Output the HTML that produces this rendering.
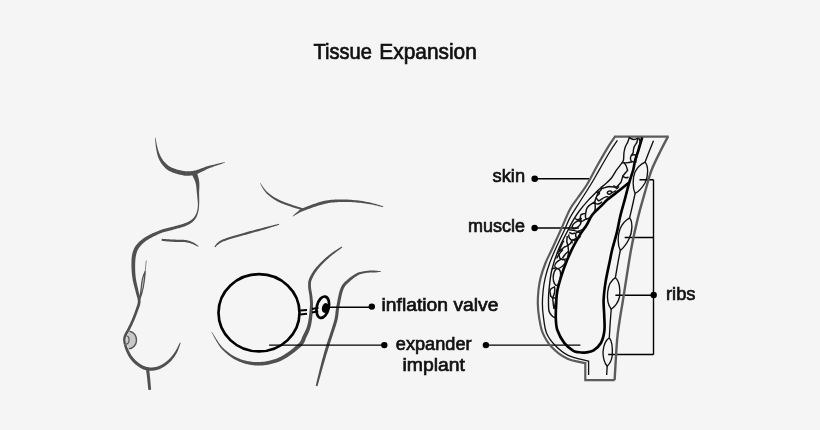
<!DOCTYPE html>
<html><head><meta charset="utf-8">
<style>
html,body{margin:0;padding:0;background:#f5f5f5;}
body{width:820px;height:430px;overflow:hidden;}
svg{display:block;} text{will-change:transform;}
text{font-family:"Liberation Sans",sans-serif;fill:#111;} .lb{stroke:#111;stroke-width:0.7;}
</style></head><body>
<svg width="820" height="430" viewBox="0 0 820 430">
<rect width="820" height="430" fill="#f5f5f5"/>
<text x="313.5" y="58.8" font-size="22" stroke="#111" stroke-width="0.7" textLength="58.5" lengthAdjust="spacingAndGlyphs">Tissue</text><text x="379.3" y="58.8" font-size="22" stroke="#111" stroke-width="0.7" textLength="97.5" lengthAdjust="spacingAndGlyphs">Expansion</text>
<text class="lb" x="492.6" y="182.3" font-size="19.2" textLength="32.5" lengthAdjust="spacingAndGlyphs">skin</text>
<text class="lb" x="468" y="231.5" font-size="19.2" textLength="57" lengthAdjust="spacingAndGlyphs">muscle</text>
<text class="lb" x="381.5" y="310.8" font-size="19.2" textLength="117" lengthAdjust="spacingAndGlyphs">inflation valve</text>
<text class="lb" x="395.8" y="349.5" font-size="19.2" textLength="75.8" lengthAdjust="spacingAndGlyphs">expander</text>
<text class="lb" x="402.5" y="371.1" font-size="19.2" textLength="62.5" lengthAdjust="spacingAndGlyphs">implant</text>
<text class="lb" x="666" y="299.8" font-size="19.2" textLength="29.5" lengthAdjust="spacingAndGlyphs">ribs</text>
<path d="M155.00,137.63 L155.03,138.14 L155.07,138.79 L155.13,139.55 L155.19,140.40 L155.27,141.32 L155.36,142.30 L155.46,143.31 L155.57,144.34 L155.68,145.35 L155.80,146.34 L155.93,147.29 L156.07,148.16 L156.20,148.98 L156.35,149.80 L156.49,150.61 L156.65,151.41 L156.81,152.21 L156.98,153.00 L157.17,153.78 L157.37,154.55 L157.58,155.31 L157.80,156.06 L158.05,156.80 L158.31,157.53 L158.60,158.23 L158.89,158.92 L159.19,159.59 L159.51,160.25 L159.84,160.90 L160.19,161.54 L160.56,162.17 L160.95,162.79 L161.36,163.40 L161.79,164.00 L162.24,164.60 L162.70,165.18 L163.18,165.73 L163.65,166.26 L164.14,166.80 L164.64,167.34 L165.18,167.88 L165.75,168.40 L166.35,168.93 L167.00,169.44 L167.70,169.94 L168.46,170.43 L169.27,170.90 L170.13,171.36 L171.07,171.79 L172.08,172.22 L173.15,172.65 L174.28,173.06 L175.45,173.46 L176.64,173.85 L177.85,174.21 L179.06,174.55 L180.26,174.85 L181.45,175.12 L182.60,175.35 L183.70,175.53 L184.75,175.64 L185.77,175.72 L186.76,175.76 L187.73,175.77 L188.69,175.74 L189.64,175.68 L190.60,175.59 L191.55,175.46 L192.51,175.30 L193.48,175.11 L194.48,174.89 L195.52,174.63 L196.59,174.27 L197.66,173.84 L198.70,173.37 L199.74,172.87 L200.78,172.34 L201.81,171.80 L202.86,171.25 L203.92,170.69 L205.00,170.14 L206.10,169.60 L207.24,169.08 L208.41,168.58 L209.69,168.06 L211.12,167.51 L212.66,166.94 L214.26,166.37 L215.89,165.79 L217.52,165.22 L219.10,164.67 L220.60,164.15 L221.98,163.66 L223.21,163.21 L224.25,162.82 L225.06,162.49 L224.94,162.11 L224.09,162.27 L223.00,162.49 L221.72,162.77 L220.29,163.09 L218.74,163.45 L217.11,163.83 L215.43,164.23 L213.74,164.64 L212.08,165.05 L210.48,165.46 L208.97,165.85 L207.59,166.22 L206.30,166.61 L205.05,167.02 L203.85,167.45 L202.67,167.89 L201.54,168.33 L200.44,168.75 L199.37,169.15 L198.33,169.52 L197.33,169.86 L196.35,170.15 L195.41,170.38 L194.48,170.57 L193.56,170.77 L192.66,170.94 L191.80,171.09 L190.97,171.20 L190.16,171.29 L189.36,171.34 L188.56,171.37 L187.75,171.37 L186.93,171.34 L186.08,171.28 L185.21,171.19 L184.30,171.07 L183.33,170.94 L182.31,170.77 L181.24,170.56 L180.12,170.31 L178.99,170.03 L177.86,169.73 L176.74,169.40 L175.65,169.06 L174.60,168.70 L173.60,168.34 L172.69,167.99 L171.87,167.64 L171.13,167.31 L170.46,166.97 L169.84,166.62 L169.25,166.26 L168.71,165.88 L168.19,165.50 L167.69,165.09 L167.21,164.67 L166.73,164.24 L166.26,163.78 L165.78,163.31 L165.30,162.82 L164.83,162.35 L164.38,161.89 L163.96,161.41 L163.55,160.92 L163.15,160.42 L162.77,159.90 L162.40,159.37 L162.04,158.83 L161.69,158.26 L161.35,157.68 L161.01,157.08 L160.69,156.47 L160.37,155.84 L160.06,155.20 L159.77,154.54 L159.49,153.85 L159.22,153.15 L158.95,152.43 L158.70,151.69 L158.46,150.95 L158.22,150.18 L157.98,149.41 L157.76,148.63 L157.53,147.84 L157.31,147.01 L157.10,146.11 L156.89,145.16 L156.69,144.17 L156.49,143.16 L156.30,142.17 L156.12,141.21 L155.95,140.30 L155.80,139.46 L155.65,138.71 L155.52,138.07 L155.40,137.57Z" fill="#505050"/>
<path d="M190.99,173.04 L191.26,173.52 L191.60,174.12 L191.97,174.79 L192.37,175.54 L192.79,176.34 L193.22,177.19 L193.65,178.07 L194.07,178.97 L194.47,179.87 L194.84,180.74 L195.16,181.58 L195.44,182.38 L195.65,183.17 L195.83,183.98 L195.98,184.81 L196.12,185.67 L196.24,186.54 L196.34,187.43 L196.43,188.33 L196.52,189.25 L196.61,190.19 L196.69,191.13 L196.79,192.09 L196.90,193.06 L197.00,194.04 L197.10,195.05 L197.21,196.09 L197.32,197.13 L197.42,198.19 L197.53,199.23 L197.62,200.27 L197.71,201.29 L197.78,202.28 L197.84,203.23 L197.88,204.13 L197.90,204.98 L197.85,205.78 L197.80,206.54 L197.74,207.26 L197.66,207.95 L197.57,208.61 L197.47,209.24 L197.36,209.85 L197.23,210.45 L197.08,211.04 L196.92,211.61 L196.74,212.19 L196.54,212.77 L196.30,213.35 L196.05,213.91 L195.79,214.46 L195.53,215.00 L195.24,215.52 L194.95,216.02 L194.63,216.51 L194.30,216.98 L193.94,217.44 L193.56,217.88 L193.15,218.31 L192.71,218.73 L192.25,219.15 L191.78,219.54 L191.30,219.93 L190.79,220.29 L190.27,220.65 L189.71,221.00 L189.12,221.34 L188.49,221.67 L187.81,222.00 L187.09,222.34 L186.30,222.67 L185.47,223.01 L184.56,223.36 L183.56,223.70 L182.48,224.05 L181.33,224.40 L180.13,224.75 L178.89,225.09 L177.64,225.43 L176.38,225.77 L175.13,226.10 L173.91,226.42 L172.72,226.74 L171.59,227.06 L170.54,227.35 L169.52,227.61 L168.52,227.86 L167.54,228.09 L166.56,228.32 L165.58,228.55 L164.59,228.80 L163.59,229.06 L162.56,229.35 L161.52,229.68 L160.44,230.04 L159.33,230.46 L158.19,230.90 L157.00,231.38 L155.78,231.90 L154.52,232.44 L153.26,233.01 L151.99,233.60 L150.74,234.20 L149.51,234.82 L148.31,235.45 L147.16,236.08 L146.07,236.71 L145.04,237.33 L144.09,237.96 L143.17,238.59 L142.29,239.23 L141.46,239.88 L140.66,240.53 L139.89,241.20 L139.16,241.87 L138.47,242.55 L137.81,243.24 L137.19,243.93 L136.59,244.63 L136.03,245.34 L135.51,246.07 L135.03,246.80 L134.60,247.54 L134.21,248.27 L133.86,249.01 L133.54,249.76 L133.25,250.51 L132.99,251.28 L132.76,252.05 L132.54,252.84 L132.34,253.64 L132.14,254.48 L131.98,255.37 L131.84,256.28 L131.72,257.21 L131.63,258.15 L131.56,259.11 L131.50,260.07 L131.47,261.05 L131.44,262.03 L131.43,263.02 L131.43,264.01 L131.44,265.01 L131.45,266.01 L131.47,267.02 L131.50,268.05 L131.54,269.09 L131.60,270.14 L131.66,271.20 L131.74,272.28 L131.83,273.36 L131.94,274.45 L132.06,275.54 L132.20,276.64 L132.35,277.75 L132.52,278.86 L132.72,279.99 L132.95,281.15 L133.21,282.33 L133.49,283.51 L133.78,284.69 L134.08,285.87 L134.38,287.03 L134.68,288.17 L134.97,289.27 L135.24,290.34 L135.50,291.36 L135.74,292.34 L135.97,293.28 L136.21,294.20 L136.46,295.05 L136.71,295.87 L136.94,296.64 L137.16,297.37 L137.35,298.08 L137.51,298.77 L137.65,299.44 L137.74,300.10 L137.79,300.77 L137.80,301.45 L137.76,302.15 L137.66,302.85 L137.53,303.57 L137.36,304.29 L137.15,305.03 L136.91,305.79 L136.66,306.55 L136.38,307.33 L136.09,308.12 L135.80,308.92 L135.51,309.74 L135.22,310.56 L134.94,311.38 L134.65,312.20 L134.35,313.03 L134.03,313.88 L133.71,314.72 L133.38,315.57 L133.05,316.41 L132.71,317.25 L132.37,318.08 L132.03,318.89 L131.69,319.69 L131.36,320.46 L131.03,321.22 L130.69,321.98 L130.34,322.73 L129.99,323.48 L129.63,324.21 L129.28,324.94 L128.93,325.65 L128.59,326.34 L128.25,327.01 L127.92,327.66 L127.60,328.29 L127.30,328.88 L127.02,329.44 L126.74,329.95 L126.47,330.45 L126.20,330.92 L125.93,331.38 L125.68,331.83 L125.42,332.27 L125.18,332.71 L124.94,333.14 L124.72,333.59 L124.50,334.04 L124.31,334.49 L124.13,334.92 L123.98,335.34 L123.83,335.74 L123.70,336.14 L123.58,336.54 L123.47,336.94 L123.37,337.34 L123.28,337.75 L123.22,338.16 L123.16,338.58 L123.12,339.00 L123.10,339.45 L123.09,339.94 L123.12,340.45 L123.16,340.96 L123.23,341.48 L123.31,341.99 L123.39,342.49 L123.48,342.97 L123.57,343.42 L123.65,343.83 L123.72,344.18 L123.78,344.47 L123.82,344.69 L126.18,344.31 L126.14,344.05 L126.08,343.72 L126.01,343.35 L125.93,342.95 L125.84,342.52 L125.76,342.07 L125.68,341.61 L125.61,341.15 L125.55,340.70 L125.51,340.28 L125.49,339.89 L125.50,339.55 L125.53,339.22 L125.58,338.89 L125.63,338.57 L125.70,338.25 L125.78,337.94 L125.87,337.62 L125.98,337.30 L126.09,336.97 L126.23,336.62 L126.37,336.27 L126.53,335.89 L126.69,335.51 L126.87,335.14 L127.05,334.77 L127.25,334.39 L127.47,334.00 L127.71,333.59 L127.96,333.17 L128.23,332.73 L128.50,332.26 L128.79,331.77 L129.09,331.25 L129.39,330.70 L129.70,330.12 L130.01,329.51 L130.33,328.88 L130.66,328.23 L131.00,327.55 L131.35,326.85 L131.71,326.13 L132.07,325.39 L132.43,324.64 L132.79,323.87 L133.14,323.10 L133.50,322.32 L133.84,321.54 L134.18,320.75 L134.52,319.94 L134.86,319.11 L135.21,318.27 L135.55,317.42 L135.89,316.56 L136.23,315.69 L136.56,314.83 L136.88,313.97 L137.19,313.11 L137.49,312.27 L137.78,311.44 L138.06,310.64 L138.35,309.86 L138.65,309.06 L138.95,308.27 L139.24,307.46 L139.52,306.65 L139.79,305.83 L140.03,305.00 L140.24,304.16 L140.41,303.30 L140.53,302.43 L140.60,301.55 L140.61,300.68 L140.56,299.82 L140.46,299.00 L140.32,298.19 L140.15,297.40 L139.96,296.61 L139.74,295.83 L139.52,295.05 L139.30,294.24 L139.08,293.42 L138.87,292.57 L138.66,291.66 L138.46,290.68 L138.22,289.63 L137.98,288.54 L137.72,287.42 L137.45,286.27 L137.19,285.12 L136.93,283.95 L136.68,282.79 L136.44,281.64 L136.23,280.51 L136.04,279.41 L135.88,278.34 L135.74,277.29 L135.62,276.23 L135.52,275.18 L135.42,274.12 L135.35,273.08 L135.28,272.04 L135.23,271.00 L135.19,269.98 L135.17,268.96 L135.15,267.96 L135.15,266.97 L135.15,265.99 L135.16,265.02 L135.18,264.05 L135.20,263.09 L135.24,262.15 L135.29,261.22 L135.35,260.30 L135.42,259.41 L135.51,258.54 L135.62,257.69 L135.74,256.87 L135.89,256.09 L136.06,255.32 L136.22,254.56 L136.40,253.83 L136.58,253.14 L136.78,252.47 L136.98,251.83 L137.21,251.22 L137.46,250.61 L137.73,250.02 L138.03,249.44 L138.37,248.85 L138.75,248.26 L139.17,247.66 L139.63,247.03 L140.12,246.40 L140.64,245.78 L141.19,245.15 L141.78,244.53 L142.41,243.91 L143.07,243.30 L143.77,242.68 L144.50,242.07 L145.28,241.47 L146.10,240.86 L146.96,240.27 L147.88,239.66 L148.88,239.05 L149.95,238.43 L151.08,237.80 L152.25,237.18 L153.44,236.56 L154.65,235.96 L155.87,235.38 L157.07,234.82 L158.25,234.29 L159.38,233.80 L160.47,233.34 L161.49,232.95 L162.48,232.60 L163.45,232.29 L164.41,232.01 L165.36,231.76 L166.31,231.51 L167.27,231.27 L168.25,231.04 L169.24,230.79 L170.27,230.53 L171.33,230.25 L172.41,229.94 L173.52,229.62 L174.69,229.28 L175.91,228.94 L177.15,228.60 L178.41,228.24 L179.68,227.88 L180.93,227.52 L182.16,227.15 L183.35,226.77 L184.48,226.38 L185.55,225.99 L186.53,225.59 L187.43,225.18 L188.25,224.77 L189.03,224.36 L189.75,223.94 L190.43,223.52 L191.08,223.09 L191.68,222.65 L192.25,222.20 L192.79,221.74 L193.31,221.27 L193.80,220.78 L194.29,220.27 L194.74,219.73 L195.17,219.18 L195.56,218.62 L195.91,218.05 L196.23,217.47 L196.53,216.88 L196.80,216.28 L197.04,215.68 L197.27,215.08 L197.48,214.47 L197.68,213.85 L197.86,213.23 L198.06,212.61 L198.23,211.99 L198.39,211.36 L198.53,210.73 L198.65,210.10 L198.75,209.45 L198.84,208.78 L198.92,208.09 L198.98,207.37 L199.03,206.62 L199.07,205.84 L199.10,205.02 L199.16,204.15 L199.21,203.21 L199.23,202.24 L199.24,201.23 L199.24,200.19 L199.22,199.14 L199.20,198.08 L199.18,197.02 L199.15,195.96 L199.13,194.93 L199.11,193.92 L199.10,192.94 L199.12,192.00 L199.16,191.06 L199.20,190.13 L199.25,189.19 L199.30,188.26 L199.34,187.32 L199.37,186.38 L199.38,185.44 L199.37,184.50 L199.33,183.55 L199.27,182.59 L199.16,181.62 L199.03,180.62 L198.84,179.58 L198.61,178.53 L198.35,177.48 L198.08,176.44 L197.79,175.43 L197.52,174.47 L197.25,173.57 L197.02,172.75 L196.83,172.03 L196.69,171.44 L196.61,170.96Z" fill="#505050"/>
<path d="M161.60,240.80 L161.80,240.82 L162.03,240.85 L162.30,240.89 L162.60,240.93 L162.93,240.97 L163.29,241.01 L163.68,241.06 L164.09,241.11 L164.52,241.15 L164.97,241.20 L165.43,241.25 L165.91,241.30 L166.40,241.34 L166.90,241.38 L167.41,241.43 L167.94,241.48 L168.49,241.52 L169.07,241.57 L169.68,241.62 L170.32,241.67 L170.99,241.72 L171.70,241.76 L172.45,241.81 L173.25,241.85 L174.13,241.88 L175.09,241.89 L176.11,241.90 L177.17,241.91 L178.27,241.92 L179.38,241.92 L180.49,241.94 L181.58,241.96 L182.63,241.99 L183.62,242.04 L184.54,242.11 L185.36,242.19 L186.12,242.28 L186.82,242.39 L187.49,242.51 L188.11,242.64 L188.70,242.78 L189.27,242.93 L189.82,243.09 L190.35,243.26 L190.87,243.44 L191.40,243.63 L191.92,243.83 L192.45,244.03 L192.98,244.22 L193.51,244.43 L194.06,244.68 L194.60,244.94 L195.14,245.21 L195.66,245.48 L196.16,245.75 L196.63,246.00 L197.07,246.24 L197.46,246.45 L197.81,246.62 L198.09,246.74 L198.51,246.06 L198.27,245.87 L197.98,245.63 L197.64,245.36 L197.25,245.05 L196.82,244.73 L196.35,244.38 L195.86,244.03 L195.34,243.67 L194.80,243.32 L194.26,242.98 L193.70,242.66 L193.15,242.37 L192.62,242.13 L192.09,241.90 L191.56,241.67 L191.01,241.45 L190.45,241.23 L189.87,241.02 L189.26,240.82 L188.62,240.63 L187.94,240.45 L187.22,240.29 L186.45,240.14 L185.64,240.01 L184.74,239.91 L183.76,239.83 L182.73,239.77 L181.65,239.73 L180.54,239.70 L179.42,239.68 L178.30,239.66 L177.20,239.64 L176.13,239.63 L175.13,239.61 L174.19,239.59 L173.35,239.55 L172.57,239.52 L171.83,239.48 L171.13,239.44 L170.47,239.41 L169.84,239.37 L169.24,239.33 L168.67,239.29 L168.12,239.25 L167.59,239.21 L167.08,239.17 L166.58,239.14 L166.09,239.10 L165.61,239.07 L165.15,239.04 L164.71,239.01 L164.28,238.98 L163.88,238.95 L163.50,238.92 L163.14,238.90 L162.81,238.87 L162.51,238.85 L162.23,238.83 L162.00,238.82 L161.80,238.80Z" fill="#505050"/>
<path d="M260.03,183.21 L260.29,183.69 L260.60,184.28 L260.96,184.98 L261.38,185.77 L261.84,186.63 L262.34,187.53 L262.88,188.46 L263.46,189.40 L264.07,190.34 L264.71,191.25 L265.38,192.12 L266.07,192.93 L266.79,193.67 L267.56,194.39 L268.35,195.11 L269.18,195.81 L270.04,196.51 L270.93,197.19 L271.83,197.85 L272.76,198.50 L273.70,199.13 L274.66,199.75 L275.62,200.35 L276.60,200.92 L277.61,201.46 L278.65,201.98 L279.71,202.47 L280.78,202.94 L281.87,203.39 L282.97,203.83 L284.07,204.25 L285.18,204.66 L286.28,205.06 L287.37,205.46 L288.46,205.85 L289.53,206.24 L290.66,206.61 L291.85,207.00 L293.08,207.38 L294.33,207.76 L295.58,208.13 L296.81,208.48 L297.99,208.82 L299.11,209.13 L300.13,209.42 L301.04,209.67 L301.82,209.89 L302.44,210.06 L302.96,208.34 L302.35,208.13 L301.57,207.88 L300.67,207.60 L299.66,207.28 L298.56,206.94 L297.39,206.57 L296.18,206.18 L294.95,205.78 L293.72,205.38 L292.52,204.97 L291.36,204.56 L290.27,204.16 L289.19,203.78 L288.11,203.40 L287.01,203.02 L285.92,202.63 L284.83,202.23 L283.74,201.82 L282.67,201.40 L281.61,200.97 L280.57,200.53 L279.55,200.06 L278.56,199.58 L277.60,199.08 L276.64,198.57 L275.68,198.03 L274.73,197.48 L273.80,196.91 L272.88,196.33 L271.97,195.72 L271.09,195.11 L270.24,194.48 L269.41,193.84 L268.62,193.19 L267.85,192.54 L267.13,191.87 L266.43,191.19 L265.74,190.43 L265.05,189.61 L264.39,188.76 L263.75,187.89 L263.15,187.02 L262.57,186.18 L262.04,185.38 L261.54,184.64 L261.10,183.98 L260.70,183.42 L260.37,182.99Z" fill="#505050"/>
<path d="M292.92,216.46 L293.20,216.32 L293.55,216.13 L293.95,215.90 L294.39,215.64 L294.87,215.35 L295.37,215.04 L295.89,214.72 L296.42,214.40 L296.96,214.09 L297.48,213.79 L298.00,213.51 L298.50,213.25 L298.95,213.00 L299.35,212.76 L299.68,212.55 L299.98,212.37 L300.26,212.21 L300.55,212.06 L300.88,211.90 L301.29,211.72 L301.81,211.51 L302.47,211.25 L303.29,210.96 L304.31,210.61 L305.52,210.15 L306.93,209.61 L308.49,209.02 L310.18,208.39 L311.98,207.73 L313.85,207.07 L315.77,206.41 L317.70,205.77 L319.64,205.17 L321.53,204.63 L323.36,204.16 L325.11,203.77 L326.80,203.42 L328.49,203.11 L330.18,202.85 L331.88,202.62 L333.57,202.43 L335.27,202.28 L336.97,202.15 L338.67,202.06 L340.39,201.99 L342.11,201.94 L343.84,201.91 L345.58,201.90 L347.34,201.91 L349.13,201.96 L350.96,202.05 L352.79,202.16 L354.64,202.29 L356.48,202.45 L358.30,202.63 L360.10,202.82 L361.87,203.03 L363.59,203.24 L365.26,203.46 L366.85,203.69 L368.43,203.92 L370.02,204.19 L371.62,204.50 L373.21,204.82 L374.77,205.17 L376.27,205.51 L377.70,205.85 L379.04,206.17 L380.27,206.46 L381.37,206.72 L382.32,206.93 L383.10,207.09 L383.30,206.31 L382.55,206.08 L381.62,205.79 L380.55,205.45 L379.34,205.08 L378.02,204.67 L376.60,204.25 L375.11,203.82 L373.56,203.40 L371.97,202.98 L370.35,202.59 L368.74,202.23 L367.15,201.91 L365.54,201.64 L363.86,201.36 L362.13,201.10 L360.35,200.84 L358.54,200.59 L356.70,200.36 L354.84,200.15 L352.97,199.96 L351.10,199.80 L349.25,199.67 L347.42,199.57 L345.62,199.50 L343.85,199.46 L342.09,199.44 L340.34,199.44 L338.59,199.46 L336.84,199.51 L335.08,199.58 L333.33,199.69 L331.58,199.84 L329.82,200.02 L328.05,200.24 L326.28,200.51 L324.49,200.83 L322.65,201.26 L320.74,201.77 L318.78,202.35 L316.80,202.98 L314.82,203.65 L312.88,204.33 L310.99,205.03 L309.18,205.71 L307.48,206.36 L305.91,206.97 L304.51,207.52 L303.29,207.99 L302.28,208.44 L301.42,208.84 L300.72,209.20 L300.15,209.53 L299.67,209.85 L299.28,210.14 L298.95,210.42 L298.67,210.69 L298.42,210.94 L298.17,211.19 L297.88,211.45 L297.50,211.75 L297.06,212.11 L296.59,212.50 L296.11,212.91 L295.64,213.32 L295.16,213.74 L294.71,214.16 L294.27,214.56 L293.86,214.95 L293.49,215.31 L293.17,215.63 L292.89,215.91 L292.68,216.14Z" fill="#505050"/>
<path d="M215.18,247.32 L215.35,247.17 L215.55,246.96 L215.77,246.73 L216.00,246.47 L216.25,246.19 L216.52,245.90 L216.80,245.60 L217.11,245.30 L217.43,245.00 L217.77,244.71 L218.13,244.44 L218.52,244.17 L218.91,243.90 L219.29,243.63 L219.64,243.37 L219.99,243.13 L220.34,242.89 L220.74,242.66 L221.18,242.41 L221.70,242.15 L222.30,241.87 L223.02,241.57 L223.87,241.24 L224.86,240.89 L226.01,240.49 L227.33,240.06 L228.79,239.60 L230.36,239.12 L232.02,238.62 L233.75,238.11 L235.53,237.60 L237.33,237.08 L239.13,236.57 L240.91,236.06 L242.65,235.58 L244.32,235.11 L245.95,234.63 L247.60,234.16 L249.26,233.68 L250.93,233.22 L252.60,232.75 L254.27,232.29 L255.93,231.84 L257.56,231.39 L259.17,230.95 L260.74,230.51 L262.28,230.09 L263.77,229.66 L265.24,229.21 L266.75,228.74 L268.27,228.26 L269.79,227.79 L271.28,227.32 L272.72,226.87 L274.09,226.43 L275.37,226.02 L276.55,225.63 L277.60,225.29 L278.49,224.99 L279.22,224.73 L278.98,223.87 L278.22,224.03 L277.30,224.25 L276.23,224.50 L275.03,224.80 L273.72,225.12 L272.32,225.47 L270.86,225.84 L269.35,226.22 L267.81,226.60 L266.26,226.99 L264.73,227.37 L263.23,227.74 L261.75,228.13 L260.21,228.53 L258.63,228.95 L257.02,229.36 L255.38,229.79 L253.72,230.22 L252.04,230.65 L250.36,231.09 L248.67,231.54 L246.99,231.99 L245.33,232.44 L243.68,232.89 L242.02,233.38 L240.29,233.89 L238.51,234.41 L236.71,234.93 L234.91,235.47 L233.12,236.00 L231.39,236.53 L229.72,237.05 L228.14,237.55 L226.67,238.03 L225.33,238.49 L224.14,238.91 L223.12,239.32 L222.23,239.70 L221.46,240.06 L220.80,240.40 L220.23,240.73 L219.73,241.04 L219.29,241.35 L218.90,241.66 L218.54,241.95 L218.20,242.24 L217.86,242.52 L217.48,242.83 L217.08,243.17 L216.70,243.55 L216.35,243.93 L216.03,244.31 L215.74,244.68 L215.47,245.05 L215.23,245.40 L215.02,245.72 L214.83,246.02 L214.67,246.28 L214.53,246.50 L214.42,246.68Z" fill="#505050"/>
<path d="M341.55,246.51 L340.91,246.92 L340.11,247.43 L339.17,248.03 L338.12,248.71 L336.97,249.45 L335.76,250.25 L334.50,251.09 L333.23,251.96 L331.96,252.84 L330.72,253.74 L329.53,254.63 L328.42,255.50 L327.37,256.39 L326.30,257.31 L325.23,258.25 L324.17,259.22 L323.10,260.21 L322.06,261.21 L321.03,262.21 L320.03,263.21 L319.06,264.21 L318.14,265.19 L317.26,266.16 L316.44,267.10 L315.66,268.04 L314.92,268.98 L314.22,269.92 L313.55,270.86 L312.92,271.79 L312.32,272.70 L311.76,273.61 L311.24,274.50 L310.75,275.37 L310.30,276.22 L309.89,277.04 L309.52,277.84 L309.20,278.61 L308.92,279.33 L308.70,280.02 L308.51,280.68 L308.37,281.33 L308.26,281.97 L308.18,282.60 L308.13,283.24 L308.10,283.89 L308.09,284.56 L308.09,285.26 L308.10,286.03 L308.13,286.89 L308.20,287.78 L308.30,288.71 L308.43,289.65 L308.58,290.60 L308.74,291.57 L308.90,292.53 L309.06,293.49 L309.22,294.44 L309.35,295.37 L309.47,296.26 L309.56,297.14 L309.63,298.00 L309.70,298.83 L309.77,299.62 L309.83,300.38 L309.88,301.13 L309.93,301.88 L309.96,302.66 L309.98,303.46 L309.98,304.31 L309.96,305.23 L309.92,306.22 L309.85,307.31 L309.75,308.52 L309.64,309.85 L309.50,311.28 L309.35,312.78 L309.19,314.32 L309.00,315.89 L308.80,317.46 L308.58,319.01 L308.35,320.51 L308.10,321.94 L307.83,323.28 L307.55,324.49 L307.25,325.61 L306.92,326.66 L306.57,327.67 L306.20,328.63 L305.82,329.56 L305.41,330.46 L304.99,331.34 L304.57,332.20 L304.13,333.06 L303.69,333.91 L303.24,334.76 L302.79,335.64 L302.39,336.53 L302.05,337.37 L301.76,338.14 L301.51,338.83 L301.27,339.46 L301.02,340.05 L300.75,340.62 L300.41,341.19 L300.00,341.80 L299.47,342.47 L298.79,343.21 L297.93,344.04 L296.88,345.01 L295.66,346.09 L294.31,347.25 L292.85,348.46 L291.29,349.70 L289.66,350.95 L287.97,352.18 L286.26,353.37 L284.53,354.50 L282.82,355.54 L281.14,356.47 L279.51,357.27 L277.88,357.98 L276.19,358.64 L274.48,359.25 L272.73,359.79 L270.96,360.28 L269.19,360.71 L267.40,361.08 L265.62,361.39 L263.85,361.65 L262.10,361.84 L260.37,361.98 L258.67,362.05 L256.99,362.08 L255.30,362.05 L253.61,361.95 L251.92,361.79 L250.24,361.57 L248.56,361.29 L246.91,360.96 L245.27,360.58 L243.66,360.14 L242.08,359.66 L240.53,359.13 L239.03,358.56 L237.56,357.95 L236.10,357.27 L234.66,356.53 L233.25,355.74 L231.85,354.89 L230.48,354.00 L229.15,353.06 L227.84,352.08 L226.56,351.06 L225.33,350.01 L224.13,348.94 L222.98,347.85 L221.86,346.68 L220.74,345.35 L219.63,343.91 L218.54,342.40 L217.48,340.84 L216.47,339.28 L215.51,337.76 L214.62,336.31 L213.80,334.97 L213.06,333.78 L212.41,332.77 L211.87,331.99 L211.53,332.21 L211.99,333.03 L212.54,334.08 L213.19,335.32 L213.93,336.71 L214.74,338.21 L215.62,339.80 L216.55,341.42 L217.54,343.06 L218.56,344.66 L219.62,346.20 L220.71,347.65 L221.82,348.95 L222.95,350.15 L224.12,351.32 L225.33,352.48 L226.59,353.60 L227.89,354.69 L229.23,355.74 L230.60,356.75 L232.01,357.72 L233.46,358.64 L234.93,359.50 L236.44,360.30 L237.97,361.04 L239.54,361.71 L241.15,362.34 L242.80,362.91 L244.49,363.44 L246.20,363.91 L247.95,364.33 L249.71,364.69 L251.50,365.00 L253.30,365.23 L255.11,365.41 L256.92,365.51 L258.73,365.55 L260.55,365.50 L262.40,365.38 L264.27,365.20 L266.16,364.95 L268.06,364.65 L269.96,364.28 L271.86,363.84 L273.75,363.35 L275.62,362.79 L277.47,362.17 L279.30,361.48 L281.09,360.73 L282.90,359.86 L284.73,358.86 L286.57,357.76 L288.41,356.58 L290.22,355.35 L291.98,354.08 L293.69,352.79 L295.31,351.52 L296.84,350.28 L298.25,349.09 L299.53,347.98 L300.67,346.96 L301.66,346.00 L302.50,345.07 L303.21,344.19 L303.79,343.33 L304.27,342.51 L304.66,341.71 L304.99,340.95 L305.26,340.22 L305.52,339.52 L305.77,338.82 L306.06,338.12 L306.41,337.36 L306.80,336.52 L307.21,335.66 L307.63,334.78 L308.05,333.88 L308.47,332.96 L308.89,332.00 L309.30,331.00 L309.69,329.97 L310.07,328.88 L310.43,327.75 L310.75,326.56 L311.05,325.31 L311.32,323.97 L311.56,322.54 L311.78,321.03 L311.99,319.47 L312.17,317.87 L312.33,316.26 L312.48,314.65 L312.61,313.07 L312.72,311.55 L312.81,310.09 L312.89,308.74 L312.95,307.49 L313.00,306.35 L313.02,305.30 L313.03,304.32 L313.01,303.40 L312.97,302.53 L312.92,301.70 L312.86,300.90 L312.79,300.12 L312.70,299.34 L312.62,298.54 L312.53,297.73 L312.44,296.86 L312.34,295.92 L312.21,294.96 L312.06,293.99 L311.89,293.01 L311.72,292.04 L311.55,291.08 L311.38,290.14 L311.23,289.23 L311.10,288.34 L311.00,287.50 L310.93,286.71 L310.90,285.97 L310.89,285.25 L310.89,284.58 L310.90,283.97 L310.93,283.41 L310.97,282.88 L311.03,282.37 L311.11,281.87 L311.23,281.36 L311.38,280.83 L311.56,280.26 L311.80,279.64 L312.08,278.96 L312.40,278.22 L312.77,277.44 L313.16,276.64 L313.60,275.81 L314.07,274.96 L314.58,274.10 L315.12,273.21 L315.70,272.32 L316.31,271.42 L316.96,270.51 L317.65,269.60 L318.36,268.70 L319.13,267.77 L319.95,266.82 L320.82,265.84 L321.73,264.85 L322.69,263.85 L323.67,262.84 L324.67,261.84 L325.69,260.85 L326.72,259.87 L327.75,258.92 L328.77,257.99 L329.78,257.10 L330.80,256.20 L331.91,255.28 L333.08,254.35 L334.29,253.41 L335.50,252.49 L336.70,251.60 L337.87,250.75 L338.97,249.94 L339.98,249.20 L340.88,248.54 L341.64,247.96 L342.25,247.49Z" fill="#505050"/>
<path d="M381.09,271.20 L380.80,271.14 L380.42,271.09 L379.99,271.04 L379.50,270.99 L378.97,270.95 L378.40,270.90 L377.82,270.85 L377.23,270.81 L376.64,270.76 L376.06,270.71 L375.50,270.66 L374.99,270.60 L374.50,270.60 L374.01,270.60 L373.51,270.59 L373.02,270.58 L372.52,270.57 L372.02,270.56 L371.51,270.55 L371.00,270.54 L370.49,270.54 L369.97,270.55 L369.45,270.57 L368.93,270.60 L368.41,270.64 L367.89,270.69 L367.38,270.75 L366.86,270.81 L366.34,270.88 L365.83,270.95 L365.31,271.04 L364.80,271.12 L364.29,271.21 L363.78,271.31 L363.28,271.42 L362.79,271.52 L362.33,271.60 L361.88,271.67 L361.44,271.74 L361.00,271.81 L360.55,271.88 L360.08,271.97 L359.60,272.08 L359.09,272.22 L358.57,272.39 L358.02,272.60 L357.44,272.85 L356.83,273.14 L356.19,273.48 L355.52,273.85 L354.82,274.25 L354.09,274.68 L353.34,275.15 L352.58,275.64 L351.81,276.16 L351.05,276.70 L350.29,277.26 L349.54,277.84 L348.81,278.43 L348.12,279.03 L347.49,279.60 L346.86,280.14 L346.22,280.70 L345.57,281.26 L344.91,281.87 L344.26,282.51 L343.61,283.21 L342.97,283.97 L342.36,284.82 L341.76,285.74 L341.20,286.77 L340.67,287.90 L340.18,289.16 L339.73,290.55 L339.30,292.04 L338.90,293.61 L338.52,295.23 L338.16,296.89 L337.82,298.57 L337.50,300.22 L337.20,301.84 L336.91,303.39 L336.64,304.86 L336.38,306.21 L336.14,307.49 L335.95,308.71 L335.79,309.86 L335.66,310.96 L335.54,312.01 L335.43,313.03 L335.33,314.03 L335.21,315.02 L335.08,316.01 L334.92,317.02 L334.73,318.06 L334.49,319.15 L334.21,320.30 L333.89,321.51 L333.54,322.76 L333.16,324.03 L332.76,325.33 L332.35,326.62 L331.93,327.92 L331.51,329.20 L331.10,330.45 L330.70,331.67 L330.32,332.83 L329.97,333.94 L329.65,334.97 L329.34,335.91 L329.05,336.80 L328.77,337.64 L328.49,338.46 L328.22,339.26 L327.95,340.07 L327.68,340.89 L327.39,341.75 L327.10,342.65 L326.79,343.62 L326.47,344.65 L326.14,345.73 L325.82,346.80 L325.49,347.88 L325.16,348.98 L324.82,350.12 L324.47,351.29 L324.11,352.52 L323.73,353.81 L323.34,355.18 L322.93,356.63 L322.50,358.18 L322.05,359.83 L321.58,361.70 L321.05,363.83 L320.47,366.15 L319.86,368.62 L319.23,371.15 L318.61,373.70 L318.00,376.20 L317.42,378.57 L316.88,380.77 L316.42,382.73 L316.03,384.39 L315.73,385.67 L317.47,386.13 L317.85,384.86 L318.32,383.23 L318.87,381.29 L319.48,379.11 L320.14,376.76 L320.83,374.29 L321.54,371.76 L322.24,369.25 L322.93,366.81 L323.59,364.51 L324.20,362.41 L324.75,360.57 L325.21,358.94 L325.66,357.41 L326.08,355.97 L326.48,354.62 L326.87,353.35 L327.24,352.13 L327.61,350.97 L327.96,349.85 L328.31,348.75 L328.65,347.68 L328.99,346.61 L329.33,345.55 L329.65,344.52 L329.96,343.57 L330.25,342.68 L330.52,341.83 L330.80,341.02 L331.07,340.22 L331.34,339.41 L331.61,338.59 L331.90,337.74 L332.19,336.84 L332.50,335.88 L332.83,334.86 L333.18,333.76 L333.57,332.61 L333.97,331.40 L334.39,330.15 L334.82,328.87 L335.25,327.56 L335.68,326.25 L336.09,324.93 L336.49,323.62 L336.86,322.33 L337.20,321.07 L337.51,319.85 L337.77,318.67 L337.97,317.54 L338.14,316.46 L338.29,315.40 L338.41,314.38 L338.52,313.36 L338.62,312.34 L338.74,311.31 L338.86,310.26 L339.01,309.16 L339.20,308.02 L339.42,306.79 L339.68,305.43 L339.96,303.96 L340.25,302.41 L340.55,300.81 L340.87,299.17 L341.20,297.53 L341.55,295.91 L341.91,294.34 L342.30,292.85 L342.69,291.46 L343.11,290.20 L343.53,289.10 L343.96,288.14 L344.41,287.29 L344.89,286.52 L345.38,285.82 L345.89,285.18 L346.43,284.58 L346.99,284.01 L347.57,283.45 L348.17,282.90 L348.79,282.35 L349.44,281.77 L350.08,281.17 L350.70,280.58 L351.34,280.01 L352.01,279.44 L352.69,278.88 L353.39,278.34 L354.09,277.82 L354.79,277.32 L355.48,276.84 L356.15,276.39 L356.79,275.98 L357.41,275.60 L357.97,275.26 L358.48,274.97 L358.95,274.73 L359.39,274.53 L359.81,274.37 L360.21,274.23 L360.61,274.11 L361.00,274.00 L361.41,273.90 L361.83,273.80 L362.27,273.70 L362.73,273.60 L363.21,273.48 L363.69,273.37 L364.17,273.27 L364.66,273.18 L365.14,273.09 L365.63,273.01 L366.12,272.93 L366.62,272.86 L367.11,272.80 L367.60,272.74 L368.10,272.68 L368.59,272.64 L369.07,272.60 L369.55,272.57 L370.03,272.55 L370.51,272.54 L370.99,272.54 L371.48,272.55 L371.97,272.56 L372.47,272.57 L372.97,272.58 L373.47,272.59 L373.98,272.60 L374.50,272.60 L375.01,272.60 L375.55,272.52 L376.10,272.44 L376.68,272.36 L377.28,272.27 L377.87,272.19 L378.45,272.10 L379.01,272.01 L379.53,271.93 L380.02,271.84 L380.45,271.76 L380.81,271.68 L381.11,271.60Z" fill="#505050"/>
<path d="M123.88,344.92 L123.97,345.23 L124.09,345.61 L124.23,346.07 L124.40,346.59 L124.58,347.15 L124.78,347.76 L124.99,348.39 L125.22,349.03 L125.46,349.69 L125.71,350.34 L125.97,350.99 L126.23,351.60 L126.50,352.17 L126.77,352.75 L127.04,353.34 L127.33,353.94 L127.63,354.55 L127.94,355.17 L128.28,355.79 L128.63,356.42 L129.01,357.05 L129.42,357.68 L129.86,358.31 L130.32,358.93 L130.81,359.54 L131.32,360.16 L131.86,360.79 L132.42,361.43 L133.01,362.06 L133.61,362.69 L134.24,363.31 L134.88,363.91 L135.54,364.50 L136.21,365.07 L136.90,365.61 L137.58,366.11 L138.27,366.59 L138.96,367.05 L139.66,367.50 L140.38,367.94 L141.12,368.36 L141.89,368.76 L142.67,369.13 L143.47,369.48 L144.30,369.79 L145.15,370.06 L146.03,370.29 L146.92,370.48 L147.83,370.60 L148.75,370.68 L149.70,370.73 L150.66,370.75 L151.64,370.73 L152.63,370.67 L153.62,370.58 L154.61,370.45 L155.60,370.28 L156.58,370.07 L157.55,369.81 L158.50,369.52 L159.43,369.17 L160.36,368.77 L161.29,368.33 L162.20,367.85 L163.10,367.34 L163.99,366.79 L164.86,366.22 L165.72,365.62 L166.55,365.00 L167.37,364.37 L168.15,363.72 L168.91,363.06 L169.65,362.37 L170.37,361.65 L171.07,360.91 L171.75,360.14 L172.41,359.36 L173.04,358.56 L173.66,357.75 L174.25,356.92 L174.83,356.10 L175.38,355.26 L175.92,354.43 L176.43,353.58 L176.91,352.67 L177.38,351.70 L177.83,350.68 L178.26,349.65 L178.67,348.61 L179.06,347.58 L179.41,346.60 L179.74,345.66 L180.03,344.80 L180.29,344.03 L180.50,343.38 L180.67,342.86 L179.93,342.54 L179.66,343.02 L179.33,343.64 L178.97,344.36 L178.57,345.18 L178.14,346.06 L177.68,346.99 L177.20,347.95 L176.69,348.91 L176.17,349.87 L175.64,350.78 L175.11,351.64 L174.57,352.42 L174.04,353.18 L173.49,353.96 L172.92,354.73 L172.33,355.49 L171.73,356.24 L171.11,356.98 L170.47,357.70 L169.82,358.40 L169.16,359.07 L168.48,359.73 L167.79,360.35 L167.09,360.94 L166.36,361.52 L165.61,362.10 L164.84,362.66 L164.04,363.21 L163.24,363.74 L162.42,364.23 L161.60,364.70 L160.77,365.14 L159.94,365.54 L159.12,365.90 L158.31,366.21 L157.50,366.48 L156.69,366.71 L155.86,366.91 L155.01,367.08 L154.15,367.21 L153.28,367.31 L152.41,367.38 L151.54,367.41 L150.68,367.41 L149.84,367.39 L149.02,367.33 L148.23,367.24 L147.48,367.12 L146.77,366.99 L146.07,366.82 L145.38,366.62 L144.69,366.37 L144.01,366.10 L143.34,365.79 L142.67,365.46 L142.01,365.10 L141.35,364.72 L140.70,364.32 L140.05,363.91 L139.42,363.49 L138.80,363.06 L138.19,362.59 L137.58,362.10 L136.98,361.58 L136.38,361.04 L135.80,360.49 L135.23,359.92 L134.67,359.34 L134.14,358.77 L133.62,358.19 L133.14,357.62 L132.68,357.07 L132.26,356.54 L131.87,356.00 L131.50,355.46 L131.15,354.91 L130.81,354.35 L130.50,353.79 L130.19,353.23 L129.89,352.66 L129.61,352.10 L129.32,351.53 L129.04,350.96 L128.77,350.40 L128.49,349.85 L128.23,349.28 L127.96,348.68 L127.71,348.08 L127.46,347.47 L127.22,346.87 L127.00,346.29 L126.79,345.75 L126.59,345.24 L126.42,344.79 L126.26,344.40 L126.12,344.08Z" fill="#505050"/>
<path d="M145.81,368.19 L145.88,368.67 L145.96,369.26 L146.06,369.95 L146.16,370.72 L146.27,371.56 L146.39,372.45 L146.52,373.39 L146.64,374.35 L146.76,375.32 L146.89,376.29 L147.00,377.24 L147.11,378.16 L147.21,379.11 L147.33,380.14 L147.44,381.24 L147.55,382.37 L147.67,383.52 L147.78,384.66 L147.89,385.76 L147.99,386.80 L148.09,387.76 L148.17,388.62 L148.24,389.35 L148.31,389.93 L151.09,389.67 L151.05,389.10 L150.99,388.37 L150.92,387.51 L150.85,386.55 L150.76,385.50 L150.67,384.39 L150.57,383.25 L150.48,382.10 L150.38,380.96 L150.28,379.85 L150.18,378.81 L150.09,377.84 L150.00,376.91 L149.90,375.94 L149.79,374.96 L149.69,373.98 L149.58,373.01 L149.47,372.07 L149.37,371.17 L149.27,370.33 L149.18,369.56 L149.10,368.87 L149.04,368.28 L148.99,367.81Z" fill="#505050"/>
<path d="M146.3,260.5 C145.8,264 145.5,268 145.2,272" fill="none" stroke="#888" stroke-width="1"/>
<path d="M145.2,271.5 C142.8,276 141.6,282 141.2,288 C140.8,293 140,297 139.2,300.5 C141,296.5 142.6,291.5 143.4,286.5 C144.2,281.5 145,276.5 145.2,271.5Z" fill="#d0d0d0" stroke="#505050" stroke-width="1.25" stroke-linejoin="round"/>
<path d="M129.5,331.3 C134.5,332.2 136.6,336.5 136.5,340.2 C136.4,344.5 133.5,348.6 128.8,348.9 C126,345 125.5,336 129.5,331.3Z" fill="#c8c8c8" stroke="none"/>
<path d="M129.5,331.3 C134.5,332.2 136.6,336.5 136.5,340.2 C136.4,344.5 133.5,348.6 128.8,348.9" fill="none" stroke="#555" stroke-width="1.4"/>
<path d="M126.5,335.8 C128.8,336.5 129.3,339 129,341 C128.7,343 127.5,344.2 125.8,344.3" fill="#cdcdcd" stroke="#555" stroke-width="1.2"/>
<ellipse cx="259" cy="312.8" rx="40.5" ry="38.6" fill="none" stroke="#000" stroke-width="2.65"/>
<ellipse cx="322.8" cy="307.2" rx="6" ry="10.9" fill="none" stroke="#000" stroke-width="2.7" transform="rotate(13 322.8 307.2)"/>
<ellipse cx="325.4" cy="308" rx="3.5" ry="5" fill="#000" transform="rotate(13 325.4 308)"/>
<g stroke="#000" stroke-width="2" fill="none"><path d="M300.2,310.6 L307,310 M300.2,314.6 L307,313.7"/><path d="M312,308.9 L318.5,307.8 M312,312.6 L318.2,311.3"/></g>
<g stroke="#000" stroke-width="1.4" fill="none"><path d="M326,307.2 H371.8"/><path d="M269.1,345.1 H384.3"/><path d="M485.9,345.1 H580.4"/><path d="M534.7,178.7 H589"/><path d="M534.6,228 H578.8"/><path d="M653.5,179.7 V354.6"/><path d="M639.5,179.7 H653.5 M624.7,237.5 H653.5 M615.4,295.2 H653.5 M608.2,354.5 H653.5"/></g>
<g fill="#000"><circle cx="371.8" cy="306.6" r="3.2"/><circle cx="384.3" cy="345.1" r="3.2"/><circle cx="485.9" cy="345.1" r="3.2"/><circle cx="534.7" cy="178.7" r="3.3"/><circle cx="534.6" cy="228" r="3.2"/><circle cx="653.7" cy="295" r="3.2"/></g>
<path d="M615.00,136.70 C613.68,138.68 610.12,143.67 607.10,148.60 C604.08,153.53 600.30,160.23 596.90,166.30 C593.50,172.37 589.85,179.80 586.70,185.00 C583.55,190.20 580.78,193.47 578.00,197.50 C575.22,201.53 572.80,203.95 570.00,209.20 C567.20,214.45 564.15,222.45 561.20,229.00 C558.25,235.55 554.92,242.83 552.30,248.50 C549.68,254.17 547.45,258.10 545.50,263.00 C543.55,267.90 541.77,273.40 540.60,277.90 C539.43,282.40 538.97,285.72 538.50,290.00 C538.03,294.28 537.68,298.93 537.80,303.60 C537.92,308.27 538.38,313.12 539.20,318.00 C540.02,322.88 540.63,328.07 542.70,332.90 C544.77,337.73 547.55,342.73 551.60,347.00 C555.65,351.27 561.45,355.83 567.00,358.50 C572.55,361.17 581.92,362.25 584.90,363.00 L585.3,363 L585.3,380.2 L614.6,380.2" fill="none" stroke="#5c5c5c" stroke-width="2.2" stroke-linejoin="miter"/>
<path d="M667.90,136.70 C666.75,138.92 663.72,144.45 661.00,150.00 C658.28,155.55 654.17,163.33 651.60,170.00 C649.03,176.67 647.88,182.02 645.60,190.00 C643.32,197.98 640.33,207.90 637.90,217.90 C635.47,227.90 633.48,236.32 631.00,250.00 C628.52,263.68 624.88,288.33 623.00,300.00 C621.12,311.67 620.68,313.33 619.70,320.00 C618.72,326.67 617.95,329.97 617.10,340.00 C616.25,350.03 615.02,373.50 614.60,380.20" fill="none" stroke="#5c5c5c" stroke-width="2.4"/>
<path d="M614,136.7 H668.8" fill="none" stroke="#5c5c5c" stroke-width="2.2"/>
<path d="M617.40,140.40 C616.17,142.25 612.95,146.72 610.00,151.50 C607.05,156.28 602.95,163.52 599.70,169.10 C596.45,174.68 593.78,179.60 590.50,185.00 C587.22,190.40 583.42,196.07 580.00,201.50 C576.58,206.93 572.52,213.02 570.00,217.60 C567.48,222.18 567.32,223.77 564.90,229.00 C562.48,234.23 558.07,243.25 555.50,249.00 C552.93,254.75 551.22,258.68 549.50,263.50 C547.78,268.32 546.25,273.48 545.20,277.90 C544.15,282.32 543.67,285.72 543.20,290.00 C542.73,294.28 542.38,299.27 542.40,303.60 C542.42,307.93 542.62,311.12 543.30,316.00 C543.98,320.88 544.47,327.95 546.50,332.90 C548.53,337.85 551.88,341.97 555.50,345.70 C559.12,349.43 562.68,352.72 568.20,355.30 C573.72,357.88 585.20,360.22 588.60,361.20 L588.6,375.1" fill="none" stroke="#111" stroke-width="1.3"/>
<path d="M629.50,137.10 C629.20,137.95 628.40,140.57 627.70,142.20 C627.00,143.83 625.92,145.18 625.30,146.90 C624.68,148.62 624.30,150.33 624.00,152.50 C623.70,154.67 623.82,158.20 623.50,159.90 C623.18,161.60 623.28,160.98 622.10,162.70 C620.92,164.42 618.13,167.70 616.40,170.20 C614.67,172.70 613.40,175.52 611.70,177.70 C610.00,179.88 608.05,181.60 606.20,183.30 C604.35,185.00 601.98,186.68 600.60,187.90 C599.22,189.12 599.90,188.60 597.90,190.60 C595.90,192.60 591.70,196.50 588.60,199.90 C585.50,203.30 581.78,207.75 579.30,211.00 C576.82,214.25 575.48,216.40 573.70,219.40 C571.92,222.40 571.17,223.90 568.60,229.00 C566.03,234.10 561.12,243.08 558.30,250.00 C555.48,256.92 553.25,263.83 551.70,270.50 C550.15,277.17 549.53,285.25 549.00,290.00 C548.47,294.75 548.50,295.50 548.50,299.00 C548.50,302.50 548.30,308.07 549.00,311.00 C549.70,313.93 551.57,315.50 552.70,316.60 C553.83,317.70 555.28,317.43 555.80,317.60" fill="none" stroke="#111" stroke-width="1.4"/>
<path d="M642.20,137.40 C641.58,139.50 639.67,146.23 638.50,150.00 C637.33,153.77 636.08,156.67 635.20,160.00 C634.32,163.33 634.15,166.40 633.20,170.00 C632.25,173.60 630.88,176.75 629.50,181.60 C628.12,186.45 626.45,193.28 624.90,199.10 C623.35,204.92 621.52,211.03 620.20,216.50 C618.88,221.97 618.35,226.32 617.00,231.90 C615.65,237.48 613.30,245.15 612.10,250.00 C610.90,254.85 610.88,255.68 609.80,261.00 C608.72,266.32 606.63,275.40 605.60,281.90 C604.57,288.40 603.83,294.50 603.60,300.00 C603.37,305.50 604.07,309.82 604.20,314.90 C604.33,319.98 604.95,325.82 604.40,330.50 C603.85,335.18 602.70,339.70 600.90,343.00 C599.10,346.30 596.03,348.73 593.60,350.30 C591.17,351.87 588.73,352.07 586.30,352.40 C583.87,352.73 581.15,352.57 579.00,352.30 C576.85,352.03 575.83,352.33 573.40,350.80 C570.97,349.27 567.07,346.52 564.40,343.10 C561.73,339.68 558.83,334.48 557.40,330.30 C555.97,326.12 556.00,322.45 555.80,318.00 C555.60,313.55 555.92,308.27 556.20,303.60 C556.48,298.93 556.23,295.83 557.50,290.00 C558.77,284.17 561.48,275.22 563.80,268.60 C566.12,261.98 568.58,256.13 571.40,250.30 C574.22,244.47 578.18,237.78 580.70,233.60 C583.22,229.42 584.57,228.33 586.50,225.20 C588.43,222.07 589.93,217.93 592.30,214.80 C594.67,211.67 598.17,208.95 600.70,206.40 C603.23,203.85 604.95,201.73 607.50,199.50 C610.05,197.27 612.35,195.87 616.00,193.00 C619.65,190.13 627.17,184.08 629.40,182.30" fill="none" stroke="#000" stroke-width="2.65"/>
<g fill="none" stroke="#111" stroke-width="1.35"><path d="M653.5,140.7 C651,147 648,154 645.1,162.1"/><path d="M645.1,162.1 C648.5,166 648.5,176 645,183 C642,188 638,192 635.1,193.5 C632.5,188 632.5,178 635,172 C637.5,167 641,164 645.1,162.1 Z"/><path d="M635.1,193.5 C633.5,201 631.5,210 629.6,217.9"/><path d="M629.6,217.9 C633,222 632.5,232 629,239 C626.5,244 623.5,248 620.3,250.5 C617.5,245 617.5,236 620,229 C622,224 626,220 629.6,217.9 Z"/><path d="M620.3,250.5 C618.5,259 617,268 615.4,277.7"/><path d="M615.4,277.7 C619.5,281 620.5,290 619.5,297 C618,303 614.5,307 611.2,309.3 C608,305 607,298 607.7,292 C608.5,285 611.5,280 615.4,277.7 Z"/><path d="M611.2,309.3 C610.5,318 609.8,328 609.3,337.8"/><path d="M609.3,337.8 C612,341 612.6,350 612.2,356 C611.5,361 609.5,364 607.2,366.3 C604.5,363 603,357 603,352 C603.5,345 606,340 609.3,337.8 Z"/><path d="M607.2,366.3 C607,369 606.8,372 606.7,375.1"/></g>
<g fill="none" stroke="#111" stroke-width="1.45"><path d="M629.5,137.6 Q633.3,141 637.9,138"/><path d="M638.3,137.8 C637.5,140 637,141 636.9,142.5 C635.5,144.5 634.5,145.5 634.1,147.1 C633.4,149 633.2,151 633.2,152.7 C632.5,154 631.8,154.8 631.3,155.5 C630.8,156.5 630.4,157.5 630.4,158.3 C630.5,159.5 630.8,160.5 631.3,161.1 C633,162 635,162.2 636.5,162"/><path d="M631.3,155.5 C633,154.5 635.5,154.8 637.2,155.5 C636.5,158 636,160.5 635.5,162"/><path d="M638.8,137.8 C640,139.5 640.3,142 639.8,144.3 C639.3,146 638.8,147 638.3,147.5"/><path d="M622.1,162.7 C625,163 629,163 632.3,161.8"/><path d="M624,162.5 C626,164.5 627,167 627.6,170.2 C626,172 624.5,174 622.9,175.8 C623.5,177.5 626,178 628.5,177.2"/><path d="M622.9,176 C622,179 621.5,181 621,182.3 C619,184.5 618,186 616.4,187 C615,187.3 614,187 613.6,187 C611,186.5 610,186.5 609,186.5 C607,187 605.5,187.5 604.3,187.9 C602.5,188.3 601.5,188.5 600.6,188.8"/><ellipse cx="609.5" cy="192.6" rx="2.2" ry="1.5" transform="rotate(-20 609.5 192.6)"/><path d="M611.5,192.8 C612.5,192.3 613.5,191.9 614.4,191.6 C615,191.2 615.6,190.9 616.2,190.5"/><path d="M613.3,185.8 C614.5,186.2 615.3,187 615.6,187.6 C616,188 616.4,188.5 616.7,188.7 C617.5,188 618.3,187 619.1,186.4"/><path d="M601.6,188.7 C601.2,189.5 600.8,190 600.5,190.5 C599.8,191.2 599.2,191.8 598.7,192.2 C598,192.7 597.5,193.1 597,193.4"/><path d="M596,192.5 C597.5,191.7 599,191.8 599.5,192.8 C599.3,194 598,195 596.5,195.1"/><path d="M595.8,197.4 C597,199 597.8,200.5 598.7,200.9 C599.7,200.5 600.7,199.8 601.6,199.2 C603,198.2 604.5,197.3 605.7,196.9 C606.7,196.8 607.7,196.8 608.6,196.9"/><path d="M594.7,202 C590,204.5 587,207 586.5,209.3 C585.8,212 585.4,214.5 585.4,216.3 C585.5,217.5 585.8,218.5 586,219.2 C587.5,219 588.5,218.5 589.4,218 C591.5,216.5 593.2,214.5 594.1,212.8 C595,210.5 595.5,208.5 595.3,207 C595.2,205 595,203.5 594.7,202Z"/><path d="M598.5,193.5 C597,195.5 596,197.5 595.3,200 C595,201 594.8,201.5 594.7,202"/><path d="M594.7,202.5 C595.5,203.5 596.2,204 597,204.1 C598,204 599,203.8 599.9,203.5 C600.7,203 601.4,202.3 602,201.7"/><path d="M585.4,213.4 C584.5,213.6 583.5,213.8 582.5,214 C581.8,214.4 581.2,214.8 580.7,215.1 C580.4,216.5 580.2,218 580.1,219.2 C579.4,219.8 578.6,220.4 577.8,220.9"/><path d="M580.1,219.2 C580.7,220.2 581.3,221.2 581.9,222.1 M586,219.2 C584.5,220 583.2,221 582.6,220.9"/><ellipse cx="576.5" cy="224.8" rx="5" ry="2.6" transform="rotate(-40 576.5 224.8)"/><path d="M574.4,218 C575.5,218.8 576.5,219.5 577.5,219.8 C579,219.5 580.5,219 582,218.5"/><path d="M580.8,221.5 C581.5,221.2 582,221 582.6,220.9"/><path d="M568.6,229.6 C570,229.8 571.8,230 573.3,230.2 C574.8,230.8 576,231.2 577.3,231.4 C578.4,231.3 579.4,231.1 580.3,230.8 C580.9,230.4 581.5,230 582,229.6"/><path d="M569.2,232.5 C570.2,233 571.2,233.5 572.1,233.7 C573.3,233.6 574.5,233.3 575.6,233.1"/><path d="M568.6,234.3 C568.8,235.5 569,236.8 569.2,237.8 C570,238.8 570.8,239.6 571.5,240.1 C572.5,240 573.5,239.8 574.4,239.5 C575.5,238.8 576.5,238 577.3,237.2"/><ellipse cx="578" cy="235" rx="2.4" ry="2.9"/><path d="M571.5,240.1 C571.8,241.5 572,242.5 572.2,243.5 M574.4,239.5 C575,240.8 575.5,242 575.8,243"/><path d="M567.3,236 C567,238 566.8,240 566.8,241.8 C567.2,243 567.6,244 567.9,245.3 C568.1,247 568.3,249 568.5,250.5 C568.4,253 568.1,256 567.9,258.1"/><path d="M576.1,238.9 C574.7,239.5 573.3,240 572,240.7 C571.2,241.6 570.7,242.6 570.3,243.6 C569.5,244.2 568.7,244.8 567.9,245.3 C566.8,245.9 565.6,246.5 564.4,247 C563.4,247.8 562.4,248.6 561.5,249.4 C560.5,250.2 559.5,251 558.6,251.7 C558,252.3 557.4,252.9 556.9,253.4"/><path d="M563.9,240.7 C563.3,241.6 562.7,242.6 562.1,243.6 C561.5,245 561,246.3 560.4,247.6 C560,248.8 559.6,249.8 559.2,250.6"/><path d="M558.6,253.4 C559,255 559.4,256.6 559.8,258.1 C560.8,258.8 561.8,259.3 562.7,259.8 C564,259.6 565.2,259.3 566.3,258.9"/><ellipse cx="560" cy="263.8" rx="6" ry="3.4" transform="rotate(-38 560 263.8)"/><path d="M556.5,258.5 C558,255 560.5,252 563,249.5 M562.5,258 C564.5,255 566,253 568,251.5"/><path d="M556.4,268.5 C553.5,272 552.8,277 553.5,281 C554.5,284.5 556,286 557.5,285.5 C559.5,282 561,276 560.5,272 C560,270 558,268.5 556.4,268.5Z"/><path d="M555,268.5 C553.5,268 552.5,268.5 551.8,269.5"/><path d="M554.5,286.9 C551.5,288 550,290 549.9,290.6 C550,293 550.5,295 550.8,296.2 C551.5,297 552,297.5 552.7,298 C554,295 555.5,290 554.5,286.9Z"/><path d="M552.7,298 C553,302 553.5,306 554,309 C555,306 555.5,302 556,298 Z"/></g>
</svg>
</body></html>
